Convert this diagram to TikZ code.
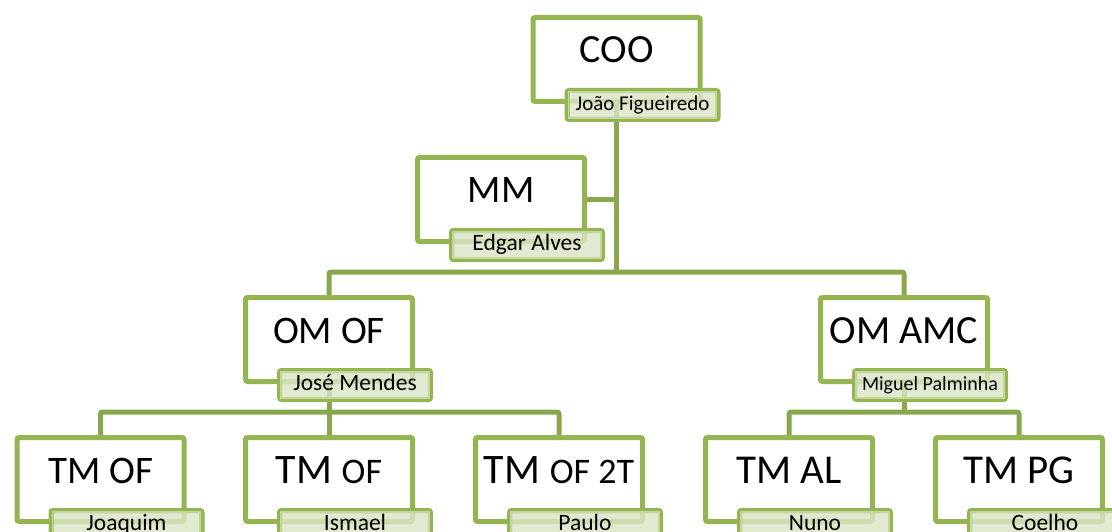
\documentclass[tikz,border=0pt]{standalone}
\usepackage{fontspec}
\setmainfont{Carlito}
\usetikzlibrary{calc,backgrounds}

\definecolor{boxgreen}{HTML}{95B552}
\definecolor{linkgreen}{HTML}{89A74C}
\definecolor{tagfill}{HTML}{DAE5C6}

\newcommand\tsize[1]{\fontsize{#1}{#1}\selectfont}

\tikzset{
  unitbox/.style={draw=boxgreen, line width=5pt, fill=white, rounded corners=2pt,
    minimum width=167pt, minimum height=84pt, inner sep=0pt, anchor=north west},
  tagbox/.style={draw=boxgreen, line width=5pt, fill=tagfill, fill opacity=0.82,
    rounded corners=2pt, minimum width=151pt, minimum height=29pt, inner sep=0pt,
    anchor=north west},
  tagglow/.style={draw=white, draw opacity=0.45, line width=1.5pt},
  link/.style={draw=linkgreen, line width=5pt, rounded corners=2pt},
  titletext/.style={anchor=base, inner sep=0pt, text=black},
  tagtext/.style={anchor=base, inner sep=0pt, text=black},
}

% #1 name, #2/#3 top-left corner, #4 title, #5 name tag, #6 tag font size
\newcommand\orgunit[6]{%
  \node[unitbox] (#1) at (#2,#3) {};
  \node[titletext] (#1-t) at ($(#1.north)+(0,48)$) {#4};
  \node[tagbox] (#1-l) at ($(#1.south west)+(34,-16)$) {};
  \path[tagglow] ($(#1-l.north west)+(4,4)$) rectangle ($(#1-l.south east)+(-4,-4)$);
  \node[tagtext, yshift=-#6*0.25pt] (#1-n) at (#1-l.center) {\tsize{#6}#5};
}

\begin{document}
\begin{tikzpicture}[x=1pt, y=-1pt]
  \useasboundingbox (0,0) rectangle (1112,532);
  \clip (0,0) rectangle (1112,532);

  \orgunit{coo}{530.5}{15}{\tsize{40}COO}{João Figueiredo}{21}
  \orgunit{mm}{415}{155}{\tsize{39}MM}{Edgar Alves}{23.5}
  \orgunit{omof}{243}{295}{\tsize{39}OM OF}{José Mendes}{23.5}
  \orgunit{omamc}{818}{295}{\tsize{40}OM AMC}{Miguel Palminha}{20}
  \orgunit{tmj}{14.5}{435}{\tsize{39}TM OF}{Joaquim}{23.5}
  \orgunit{tmi}{243}{435}{\tsize{42}TM \tsize{36}OF}{Ismael}{23.5}
  \orgunit{tmt}{473}{435}{\tsize{42}TM \tsize{36}OF 2T}{Paulo}{23.5}
  \orgunit{tmal}{703}{435}{\tsize{41}TM AL}{Nuno}{23.5}
  \orgunit{tmpg}{933}{435}{\tsize{41}TM PG}{Coelho}{23.5}

  % junction points of the reporting lines
  \coordinate (bar1) at (614,272);
  \coordinate (bar2) at (326.5,412);
  \coordinate (bar3) at (901.5,412);

  \begin{scope}[on background layer]
    \draw[link] (coo.south) -- (coo.south |- bar1);
    \draw[link] (mm.east) -- (mm.east -| bar1);
    \draw[link] (omof.north) |- (bar1) -| (omamc.north);
    \draw[link] (omof.south) -- (tmi.north);
    \draw[link] (tmj.north) |- (bar2) -| (tmt.north);
    \draw[link] (omamc.south) -- (omamc.south |- bar3);
    \draw[link] (tmal.north) |- (bar3) -| (tmpg.north);
  \end{scope}
\end{tikzpicture}
\end{document}
